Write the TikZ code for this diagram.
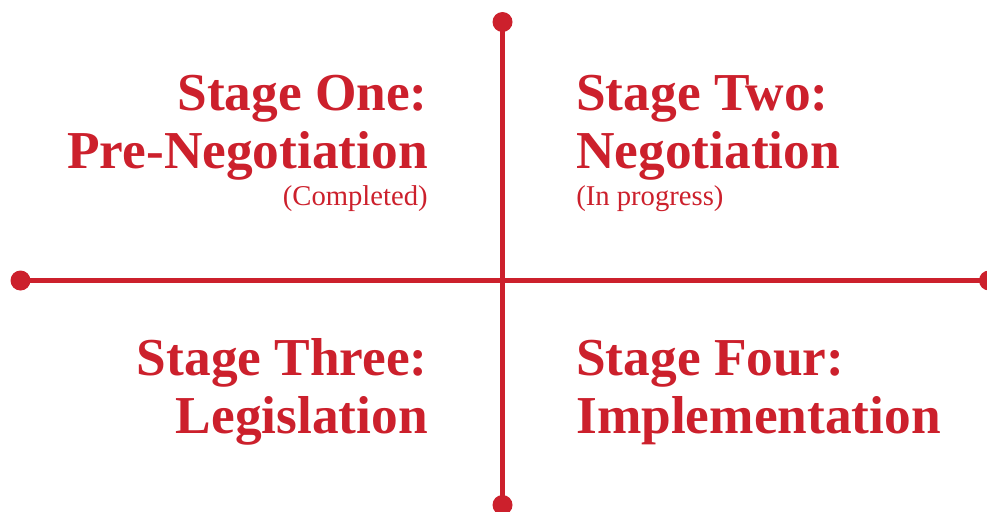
\documentclass[tikz,border=0pt]{standalone}
\usepackage{fontspec}
\setmainfont{Liberation Serif}
\usepackage{tikz}
\usetikzlibrary{positioning}
\definecolor{StageRed}{HTML}{CC202C}

\begin{document}
\begin{tikzpicture}[x=0.75pt, y=-0.75pt]
        \tikzstyle{axis}  = [draw=StageRed, line width=3.75pt]
        \tikzstyle{dot}   = [circle, fill=StageRed, inner sep=0pt, minimum size=15pt]
        \tikzstyle{title} = [text=StageRed, inner sep=0pt, font=\fontsize{40}{44}\selectfont\bfseries]
        \tikzstyle{note}  = [text=StageRed, inner sep=0pt, font=\fontsize{21.5}{25}\selectfont]

        \useasboundingbox (0,0) rectangle (987,511);

        % End dots of the cross
        \node[dot] (top)    at (502.5,22)  {};
        \node[dot] (bottom) at (502.5,505) {};
        \node[dot] (left)   at (20.5,280.5) {};
        \node[dot] (right)  at (989,280.5) {};

        % Cross lines
        \draw[axis] (top.center) -- (bottom.center);
        \draw[axis] (left.center) -- (right.center);

        % Stage one, top left
        \node[title, anchor=base east] (one)     at (428,110) {Stage One:};
        \node[title, anchor=base east] (oneName) at (428,168) {Pre-Negotiation};
        \node[note,  anchor=base east] (oneNote) at (428,205) {(Completed)};

        % Stage two, top right
        \node[title, anchor=base west] (two)     at (576,110) {Stage Two:};
        \node[title, anchor=base west] (twoName) at (576,168) {Negotiation};
        \node[note,  anchor=base west] (twoNote) at (576,205) {(In progress)};

        % Stage three, bottom left
        \node[title, anchor=base east] (three)     at (428,375) {Stage Three:};
        \node[title, anchor=base east] (threeName) at (428,433) {Legislation};

        % Stage four, bottom right
        \node[title, anchor=base west] (four)     at (576,375) {Stage Four:};
        \node[title, anchor=base west] (fourName) at (576,433) {Implementation};
    \end{tikzpicture}
\end{document}
